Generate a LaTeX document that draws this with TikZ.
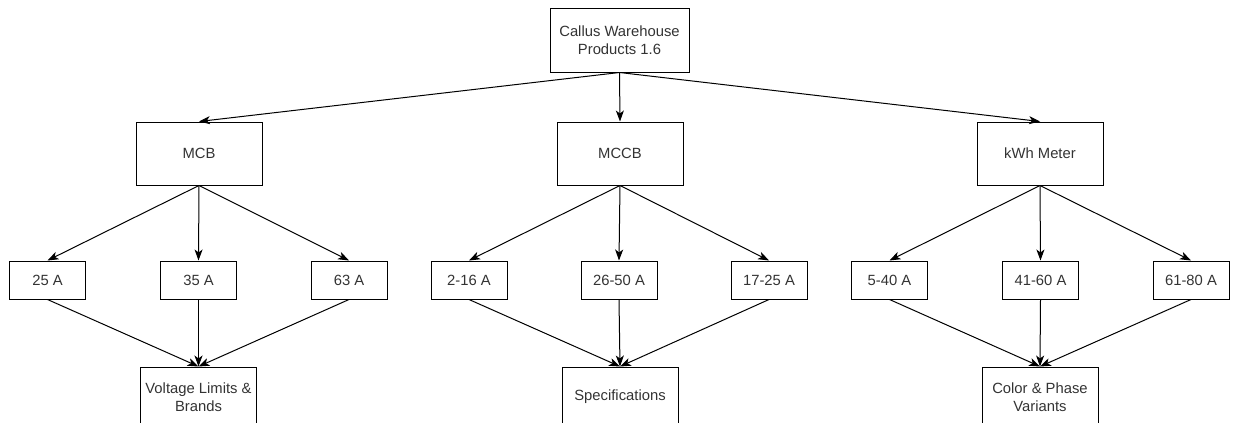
\documentclass[tikz,border=0pt]{standalone}
\usepackage{fontspec}
\setmainfont{Liberation Sans}
\usetikzlibrary{arrows.meta}
\begin{document}
\begin{tikzpicture}[x=1pt,y=-1pt,
  box/.style={draw=black,line width=1pt,inner sep=0pt,align=center,
    text=black!80,font=\fontsize{14.8}{17.7}\selectfont},
  rootbox/.style={box,minimum width=139pt,minimum height=64pt},
  catbox/.style={box,minimum width=126pt,minimum height=63pt},
  leafbox/.style={box,minimum width=76pt,minimum height=38pt},
  infobox/.style={box,minimum width=116pt,minimum height=60pt},
  link/.style={draw=black,line width=1pt,-{Stealth[length=11pt,width=8pt,inset=3pt]}}]
\useasboundingbox (0,0) rectangle (1237,423);
\clip (0,0) rectangle (1237,423);

% root
\node[rootbox] (root) at (619.5,40) {Callus Warehouse\\Products 1.6};

% categories
\node[catbox] (mcb)  at (199,153.5)  {MCB};
\node[catbox] (mccb) at (620,153.5)  {MCCB};
\node[catbox] (kwh)  at (1040,153.5) {kWh Meter};

% ratings
\node[leafbox] (a25)   at (47.5,280)   {25 A};
\node[leafbox] (a35)   at (198.5,280)  {35 A};
\node[leafbox] (a63)   at (349,280)    {63 A};
\node[leafbox] (b216)  at (469,280)    {2-16 A};
\node[leafbox] (b2650) at (619,280)    {26-50 A};
\node[leafbox] (b1725) at (769,280)    {17-25 A};
\node[leafbox] (c540)  at (889.5,280)  {5-40 A};
\node[leafbox] (c4160) at (1040.5,280) {41-60 A};
\node[leafbox] (c6180) at (1191,280)   {61-80 A};

% details
\node[infobox] (volt) at (198.5,397) {Voltage Limits \&\\Brands};
\node[infobox] (spec) at (620,397)   {Specifications};
\node[infobox] (colr) at (1040,397)  {Color \& Phase\\Variants};

% connectors
\foreach \c in {mcb,mccb,kwh} \draw[link] (root.south) -- (\c.north);
\foreach \l in {a25,a35,a63} {
  \draw[link] (mcb.south) -- (\l.north);
  \draw[link] (\l.south) -- (volt.north);
}
\foreach \l in {b216,b2650,b1725} {
  \draw[link] (mccb.south) -- (\l.north);
  \draw[link] (\l.south) -- (spec.north);
}
\foreach \l in {c540,c4160,c6180} {
  \draw[link] (kwh.south) -- (\l.north);
  \draw[link] (\l.south) -- (colr.north);
}
\end{tikzpicture}
\end{document}
